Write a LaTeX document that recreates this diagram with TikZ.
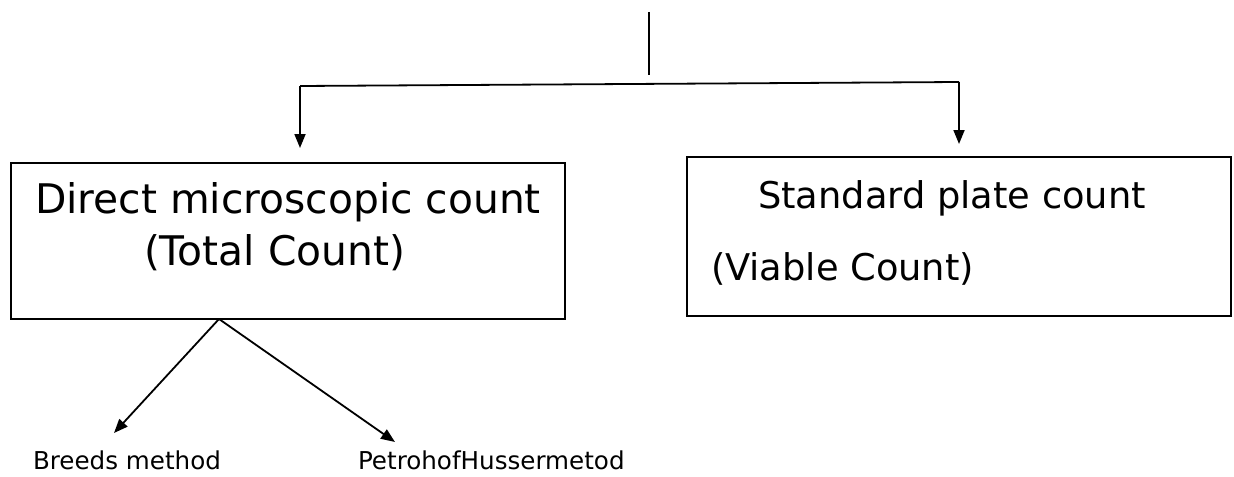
\documentclass[tikz,border=0pt]{standalone}
\usepackage{fontspec}
\setmainfont{DejaVu Sans}
\usetikzlibrary{arrows.meta}
\begin{document}
\begin{tikzpicture}[x=0.5pt,y=-0.5pt,
  every node/.style={inner sep=0pt,outer sep=0pt},
  box/.style={draw,line width=1pt,rectangle},
  bigl/.style={font=\fontsize{20.4}{24}\selectfont,anchor=base west},
  bigr/.style={font=\fontsize{18.4}{22}\selectfont,anchor=base west},
  small/.style={font=\fontsize{12.3}{15}\selectfont,anchor=base west},
  link/.style={line width=0.9pt},
  arr/.style={link,-{Triangle[length=7pt,width=5.5pt]}}]
\useasboundingbox (0,0) rectangle (1234,476);

% the two count boxes
\node[box,minimum width=277pt,minimum height=78pt] (direct) at (288,241) {};
\node[box,minimum width=272pt,minimum height=79.5pt] (plate) at (959,236.5) {};

% box texts
\node[bigl] (d1) at (35,213) {Direct microscopic count};
\node[bigl] (d2) at (144,265) {(Total Count)};
\node[bigr] (p1) at (758,208) {Standard plate count};
\node[bigr] (p2) at (711,280) {(Viable Count)};

% method labels
\node[small] (breeds) at (33,469) {Breeds method};
\node[small] (petro) at (358,469) {PetrohofHussermetod};

% top branch
\coordinate (top) at (649,12);
\coordinate (stem) at (649,75);
\coordinate (hl) at (300,86);
\coordinate (hr) at (959,82);
\coordinate (tl) at (300,148);
\coordinate (tr) at (959,144);
\draw[link] (top) -- (stem);
\draw[link] (hl) -- (hr);
\draw[arr] (hl) -- (tl);
\draw[arr] (hr) -- (tr);

% lower branch
\coordinate (apex) at (219,319);
\coordinate (bl) at (114,433);
\coordinate (br) at (395,442);
\draw[arr] (apex) -- (bl);
\draw[arr] (apex) -- (br);
\end{tikzpicture}
\end{document}
